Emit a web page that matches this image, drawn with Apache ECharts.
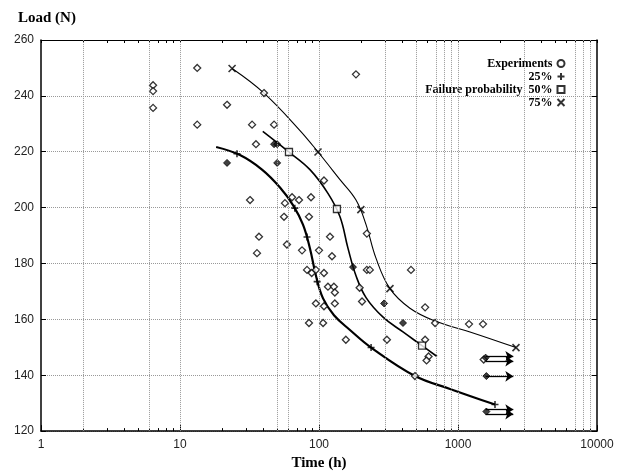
<!DOCTYPE html>
<html>
<head>
<meta charset="utf-8">
<script src="https://cdn.jsdelivr.net/npm/echarts@6/dist/echarts.min.js"></script>
<style>
  html, body { margin: 0; padding: 0; background: #fff; }
  #chart { width: 623px; height: 476px; }
</style>
</head>
<body>
<div id="chart"></div>
<script>
// experiment points [time h, load N]
const experiments = [
  [13.3, 250], [6.4, 243.8], [6.4, 241.7], [6.4, 235.7], [21.8, 236.8], [40.2, 241],
  [13.3, 229.7], [33, 229.7], [47.5, 229.7], [35.2, 222.7], [108.6, 209.7],
  [31.9, 202.7], [64, 203.7], [71.8, 202.7], [87.6, 203.7], [56.9, 201.6],
  [56, 196.7], [84.7, 196.7], [37, 189.6], [120, 189.6], [58.8, 186.8],
  [35.8, 183.7], [75.5, 184.7], [100, 184.7], [124, 182.6],
  [82, 177.7], [88.6, 176.6], [95, 177.7], [108.6, 176.6],
  [116, 171.7], [128, 171.7], [130, 169.6], [95, 165.7], [130, 165.7],
  [184.5, 247.7], [221, 190.7], [221, 177.7], [232, 177.7], [459, 177.7],
  [196, 171.3], [108.6, 164.7], [204, 166.4], [580, 164.3],
  [84.7, 158.7], [107, 158.7], [684, 158.7], [1200, 158.3], [1513, 158.3],
  [156, 152.7], [308, 152.7], [580, 152.7], [614, 146.7], [594, 145.3],
  [490, 139.7], [1530, 145.6]
];
// overlapping (dark) experiment points
const experimentsDense = [
  [47.5, 222.7], [50, 222.7], [21.8, 216], [50, 216], [175.6, 178.7],
  [294, 165.7], [402, 158.7], [1580, 146.3], [1600, 139.7], [1600, 127]
];
// run-outs: specimens not failed
const runoutLoads = [146.8, 145.0, 139.6, 127.7, 126.1];
const runoutFrom = 1580;
const runoutTo = 2500;

// failure probability curves
const curve25 = [
  [18.2, 221.7], [27, 218.8], [38.9, 213.6], [52.4, 207.2], [65, 200.9],
  [76.7, 193.9], [86.1, 185.4], [95.1, 175.6], [106.9, 167.5], [128.2, 161.5],
  [167, 156.2], [237, 149.9], [491, 139.7], [876, 135.1], [1846, 129.5]
];
const curve50 = [
  [39.4, 227.3], [60.8, 219.9], [86.1, 213.6], [116, 205.1], [141.6, 196.7],
  [161.7, 185.4], [184.6, 175.6], [218, 167.8], [289, 160.8], [402, 155.5],
  [551, 150.6], [706, 146.7]
];
const curve75 = [
  [23.7, 249.8], [40.2, 241.0], [73, 227.6], [98.4, 219.9], [141.6, 210.0],
  [184.6, 202.7], [218, 193.9], [257, 181.9], [324, 171.0], [451, 164.0],
  [684, 159.4], [1220, 155.5], [2613, 149.9]
];
const marks25 = [[25.7, 219.3], [67, 199.8], [82, 189.5], [97, 173.5], [237, 149.9], [1846, 129.5]];
const marks50 = [[60.8, 219.9], [134.6, 199.5], [551, 150.6]];
const marks75 = [[23.7, 249.8], [98.4, 219.9], [200, 199.3], [324, 171], [2613, 149.9]];

const gridTimes = [2, 6, 10, 50, 60, 100, 300, 500, 700, 800, 900, 1000, 3000, 7000, 8000, 9000];
const minorTimes = [];
[1, 10, 100, 1000].forEach(function (d) {
  for (let k = 2; k <= 9; k++) minorTimes.push(k * d);
});
const allTimes = [1, 10, 100, 1000, 10000].concat(minorTimes);

const serif = '"Liberation Serif", "DejaVu Serif", serif';
const sans = '"Liberation Sans", Arial, sans-serif';
const PLUS = 'path://M5,0L5,10M0,5L10,5';
const CROSS = 'path://M0,0L10,10M10,0L0,10';

const chart = echarts.init(document.getElementById('chart'));

const option = {
  animation: false,
  backgroundColor: '#fff',
  title: {
    text: 'Load (N)',
    left: 13,
    top: 6,
    textStyle: { fontFamily: serif, fontWeight: 'bold', fontSize: 15, color: '#000' }
  },
  legend: {
    orient: 'vertical',
    right: 51,
    top: 52,
    align: 'right',
    itemWidth: 7,
    itemHeight: 7,
    itemGap: 0,
    textStyle: { fontFamily: serif, fontWeight: 'bold', fontSize: 12, color: '#000', lineHeight: 13 },
    data: [
      { name: 'Experiments', icon: 'circle' },
      { name: '25%' },
      { name: 'Failure probability  50%' },
      { name: '75%' }
    ]
  },
  grid: { left: 41, right: 26, top: 40, bottom: 38 },
  xAxis: [
    {
      type: 'log', logBase: 10, min: 1, max: 10000, position: 'bottom',
      name: 'Time (h)', nameLocation: 'middle', nameGap: 20,
      nameTextStyle: { fontFamily: serif, fontWeight: 'bold', fontSize: 15, color: '#000' },
      axisLine: { lineStyle: { color: '#000', width: 1.5 } },
      axisTick: { inside: true, length: 6, lineStyle: { color: '#000' } },
      axisLabel: {
        margin: 8, fontFamily: sans, fontSize: 12, color: '#222',
        formatter: function (v) { return String(Math.round(v)); }
      },
      splitLine: { show: false }
    },
    {
      type: 'log', logBase: 10, min: 1, max: 10000, position: 'bottom',
      axisLine: { show: false },
      axisTick: { inside: true, length: 3, customValues: minorTimes, lineStyle: { color: '#000' } },
      axisLabel: { show: false },
      splitLine: { show: false }
    },
    {
      type: 'log', logBase: 10, min: 1, max: 10000, position: 'top',
      axisLine: { lineStyle: { color: '#000', width: 1 } },
      axisTick: { inside: true, length: 3, customValues: allTimes, lineStyle: { color: '#000' } },
      axisLabel: { show: false },
      splitLine: { show: false }
    }
  ],
  yAxis: [
    {
      type: 'value', min: 120, max: 260, interval: 20,
      axisLine: { show: true, lineStyle: { color: '#000', width: 1.5 } },
      axisTick: { show: true, inside: true, length: 5, lineStyle: { color: '#000' } },
      axisLabel: { margin: 7, fontFamily: sans, fontSize: 12, color: '#222' },
      splitLine: { show: true, lineStyle: { type: 'dotted', color: '#999', width: 1 } }
    },
    {
      type: 'value', min: 120, max: 260, interval: 20, position: 'right',
      axisLine: { show: true, lineStyle: { color: '#000', width: 1.5 } },
      axisTick: { show: true, inside: true, length: 5, lineStyle: { color: '#000' } },
      axisLabel: { show: false },
      splitLine: { show: false }
    }
  ],
  series: [
    {
      type: 'line', name: 'c25', data: curve25, smooth: 0.4,
      showSymbol: false, lineStyle: { color: '#000', width: 2.2 }, z: 2,
      markLine: {
        silent: true, symbol: 'none', label: { show: false },
        lineStyle: { type: 'dotted', color: '#999', width: 1 },
        data: gridTimes.map(function (t) { return { xAxis: t }; })
      }
    },
    {
      type: 'line', name: 'c50', data: curve50, smooth: 0.4,
      showSymbol: false, lineStyle: { color: '#000', width: 1.6 }, z: 2
    },
    {
      type: 'line', name: 'c75', data: curve75, smooth: 0.4,
      showSymbol: false, lineStyle: { color: '#000', width: 1.1 }, z: 2
    },
    {
      type: 'scatter', name: 'Experiments', data: experiments,
      symbol: 'diamond', symbolSize: 7,
      itemStyle: { color: '#fff', borderColor: '#000', borderWidth: 1.3 }, z: 4
    },
    {
      type: 'scatter', name: 'dense', data: experimentsDense,
      symbol: 'diamond', symbolSize: 7,
      itemStyle: { color: '#111', borderColor: '#000', borderWidth: 1 }, z: 4
    },
    {
      type: 'scatter', name: '25%', data: marks25, symbol: PLUS, symbolSize: 7,
      itemStyle: { color: 'none', borderColor: '#000', borderWidth: 1.6 }, z: 5
    },
    {
      type: 'scatter', name: 'Failure probability  50%', data: marks50, symbol: 'rect', symbolSize: 7,
      itemStyle: { color: '#fff', borderColor: '#000', borderWidth: 1.3 }, z: 5
    },
    {
      type: 'scatter', name: '75%', data: marks75, symbol: CROSS, symbolSize: 7,
      itemStyle: { color: 'none', borderColor: '#000', borderWidth: 1.6 }, z: 5
    },
    {
      type: 'line', name: 'runouts', data: [],
      markLine: {
        silent: true, symbol: ['none', 'arrow'], symbolSize: 8,
        label: { show: false },
        lineStyle: { type: 'solid', color: '#000', width: 1.3 },
        data: runoutLoads.map(function (v) {
          return [{ coord: [runoutFrom, v] }, { coord: [runoutTo, v] }];
        })
      }
    }
  ]
};

chart.setOption(option);
</script>
</body>
</html>
